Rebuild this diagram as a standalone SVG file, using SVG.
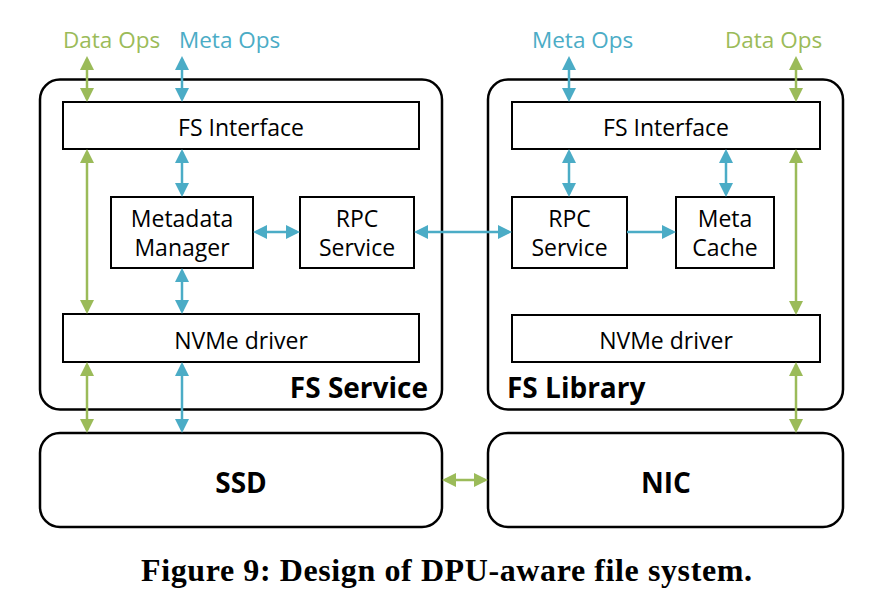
<svg xmlns="http://www.w3.org/2000/svg" width="870" height="608" viewBox="0 0 870 608">
<style>
  .outer { fill: #ffffff; stroke: #000000; stroke-width: 2.5; }
  .box { fill: #ffffff; stroke: #000000; stroke-width: 2; }
  .t { font-family: "Open Sans", "Liberation Sans", sans-serif; font-size: 23px; fill: #000000; text-anchor: middle; }
  .b { font-family: "Open Sans", "Liberation Sans", sans-serif; font-size: 28px; font-weight: bold; fill: #000000; }
  .lg { font-family: "Open Sans", "Liberation Sans", sans-serif; font-size: 22.5px; fill: #9BBB59; }
  .lb { font-family: "Open Sans", "Liberation Sans", sans-serif; font-size: 22.5px; fill: #4BACC6; }
  .g { stroke: #9BBB59; stroke-width: 2.5; fill: none; marker-start: url(#ag); marker-end: url(#ag); }
  .bl { stroke: #4BACC6; stroke-width: 2.5; fill: none; marker-start: url(#ab); marker-end: url(#ab); }
  .bl1 { stroke: #4BACC6; stroke-width: 2.5; fill: none; marker-end: url(#ab); }
  .cap { font-family: "Liberation Serif", "Times New Roman", serif; font-size: 32px; font-weight: bold; fill: #000000; }
</style>
<defs>
  <marker id="ag" viewBox="0 0 14 14" refX="11" refY="7" markerWidth="14" markerHeight="14" markerUnits="userSpaceOnUse" orient="auto-start-reverse">
    <path d="M0,0 L14,7 L0,14 z" fill="#9BBB59"/>
  </marker>
  <marker id="ab" viewBox="0 0 14 14" refX="11" refY="7" markerWidth="14" markerHeight="14" markerUnits="userSpaceOnUse" orient="auto-start-reverse">
    <path d="M0,0 L14,7 L0,14 z" fill="#4BACC6"/>
  </marker>
</defs>
<rect width="870" height="608" fill="#ffffff"/>

<g id="fs-service">
  <rect class="outer" x="40" y="79.5" width="402" height="330" rx="20"/>
  <text class="b" x="428" y="398" text-anchor="end">FS Service</text>
</g>
<g id="fs-library">
  <rect class="outer" x="488" y="79.5" width="355" height="330" rx="20"/>
  <text class="b" x="507" y="398">FS Library</text>
</g>

<g id="fs-interface-left">
  <rect class="box" x="63" y="102" width="356" height="47"/>
  <text class="t" x="241" y="136">FS Interface</text>
</g>
<g id="metadata-manager">
  <rect class="box" x="111" y="197" width="142" height="71"/>
  <text class="t" x="182" y="227">Metadata</text>
  <text class="t" x="182" y="256">Manager</text>
</g>
<g id="rpc-service-left">
  <rect class="box" x="300" y="197" width="114" height="71"/>
  <text class="t" x="357" y="227">RPC</text>
  <text class="t" x="357" y="256">Service</text>
</g>
<g id="nvme-left">
  <rect class="box" x="63" y="314" width="356" height="48"/>
  <text class="t" x="241" y="349">NVMe driver</text>
</g>

<g id="fs-interface-right">
  <rect class="box" x="512" y="102" width="308" height="47"/>
  <text class="t" x="666" y="136">FS Interface</text>
</g>
<g id="rpc-service-right">
  <rect class="box" x="512" y="197" width="115" height="71"/>
  <text class="t" x="569.5" y="227">RPC</text>
  <text class="t" x="569.5" y="256">Service</text>
</g>
<g id="meta-cache">
  <rect class="box" x="676" y="197" width="98" height="71"/>
  <text class="t" x="725" y="227">Meta</text>
  <text class="t" x="725" y="256">Cache</text>
</g>
<g id="nvme-right">
  <rect class="box" x="512" y="315" width="308" height="47"/>
  <text class="t" x="666" y="349">NVMe driver</text>
</g>

<g id="ssd">
  <rect class="outer" x="40" y="433" width="402" height="94" rx="20"/>
  <text class="b" x="241" y="493" text-anchor="middle">SSD</text>
</g>
<g id="nic">
  <rect class="outer" x="488" y="433" width="355" height="94" rx="20"/>
  <text class="b" x="666" y="493" text-anchor="middle">NIC</text>
</g>

<g id="labels">
  <text class="lg" x="63" y="48">Data Ops</text>
  <text class="lb" x="179" y="48">Meta Ops</text>
  <text class="lb" x="532" y="48">Meta Ops</text>
  <text class="lg" x="725" y="48">Data Ops</text>
</g>

<g id="connectors">
  <line class="g" x1="87" y1="59" x2="87" y2="99"/>
  <line class="g" x1="87" y1="152" x2="87" y2="311"/>
  <line class="g" x1="87" y1="365" x2="87" y2="430"/>
  <line class="bl" x1="182" y1="59" x2="182" y2="99"/>
  <line class="bl" x1="182" y1="152" x2="182" y2="194"/>
  <line class="bl" x1="182" y1="271" x2="182" y2="311"/>
  <line class="bl" x1="182" y1="365" x2="182" y2="430"/>
  <line class="bl" x1="256" y1="232" x2="297" y2="232"/>
  <line class="bl" x1="417" y1="232" x2="509" y2="232"/>
  <line class="bl" x1="569" y1="59" x2="569" y2="99"/>
  <line class="bl" x1="569" y1="152" x2="569" y2="194"/>
  <line class="bl1" x1="627" y1="232" x2="673" y2="232"/>
  <line class="bl" x1="726" y1="152" x2="726" y2="194"/>
  <line class="g" x1="796" y1="59" x2="796" y2="99"/>
  <line class="g" x1="796" y1="152" x2="796" y2="312"/>
  <line class="g" x1="796" y1="365" x2="796" y2="430"/>
  <line class="g" x1="445" y1="480" x2="485" y2="480"/>
</g>

<text class="cap" x="141" y="581" textLength="611" lengthAdjust="spacing">Figure 9: Design of DPU-aware file system.</text>
</svg>
